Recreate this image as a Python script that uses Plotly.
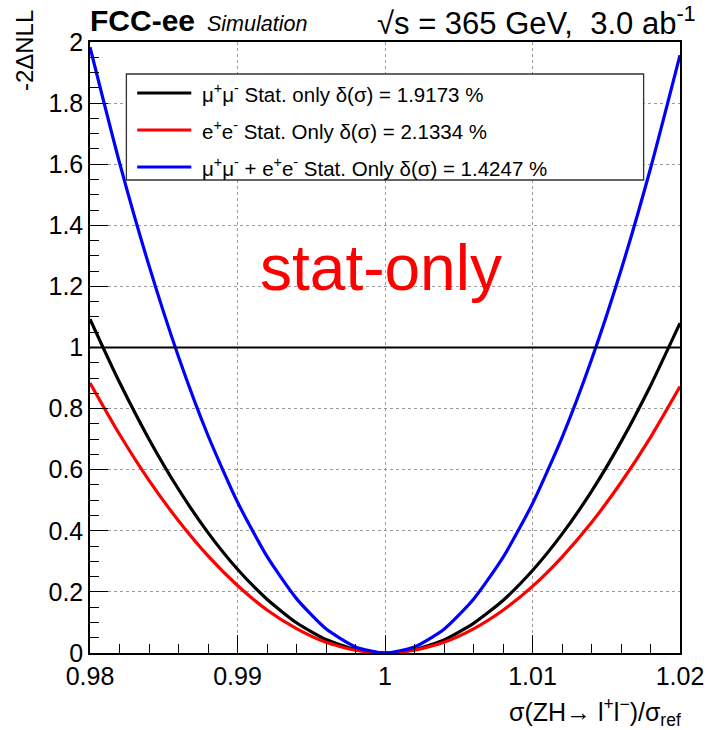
import plotly.graph_objects as go

# ---- data ----
x_vals = [0.980, 0.982, 0.984, 0.986, 0.988, 0.990, 0.992, 0.994, 0.996, 0.998, 1.000,
          1.002, 1.004, 1.006, 1.008, 1.010, 1.012, 1.014, 1.016, 1.018, 1.020]
mumu_nll = [1.093, 0.886, 0.700, 0.536, 0.394, 0.274, 0.176, 0.099, 0.044, 0.011, 0.0,
            0.011, 0.043, 0.097, 0.172, 0.270, 0.389, 0.529, 0.691, 0.875, 1.080]
ee_nll = [0.884, 0.716, 0.565, 0.433, 0.318, 0.221, 0.141, 0.080, 0.035, 0.009, 0.0,
          0.009, 0.035, 0.079, 0.140, 0.218, 0.314, 0.427, 0.558, 0.706, 0.872]
comb_nll = [1.983, 1.605, 1.268, 0.970, 0.712, 0.494, 0.316, 0.178, 0.079, 0.020, 0.0,
            0.020, 0.078, 0.176, 0.313, 0.489, 0.705, 0.960, 1.253, 1.586, 1.957]

series_names = ["μ<sup>+</sup>μ<sup>-</sup> Stat. only δ(σ) = 1.9173 %",
                "e<sup>+</sup>e<sup>-</sup> Stat. Only δ(σ) = 2.1334 %",
                "μ<sup>+</sup>μ<sup>-</sup> + e<sup>+</sup>e<sup>-</sup> Stat. Only δ(σ) = 1.4247 %"]
series_colors = ["#000000", "#ff0000", "#0000ff"]
series_values = [mumu_nll, ee_nll, comb_nll]

x_ticks = [0.98, 0.99, 1.00, 1.01, 1.02]
x_ticktext = ["0.98", "0.99", "1", "1.01", "1.02"]
y_ticks = [0, 0.2, 0.4, 0.6, 0.8, 1.0, 1.2, 1.4, 1.6, 1.8, 2.0]
y_ticktext = ["0", "0.2", "0.4", "0.6", "0.8", "1", "1.2", "1.4", "1.6", "1.8", "2"]

FONT = "Liberation Sans, Arial, Helvetica, sans-serif"

fig = go.Figure()
for name, col, vals in zip(series_names, series_colors, series_values):
    fig.add_trace(go.Scatter(x=x_vals, y=vals, mode="lines", name=name,
                             line=dict(color=col, width=3.2, shape="spline", smoothing=0.6),
                             showlegend=False))

axis_common = dict(showline=True, linecolor="black", linewidth=1.5, mirror=True,
                   ticks="inside", ticklen=18, tickwidth=1.2, tickcolor="black",
                   showgrid=True, gridcolor="#9a9a9a", griddash="dot", gridwidth=1,
                   zeroline=False,
                   tickfont=dict(family=FONT, size=25, color="black"))

fig.update_xaxes(range=[0.98, 1.02], tickvals=x_ticks, ticktext=x_ticktext,
                 minor=dict(dtick=0.002, ticks="inside", ticklen=9, tickcolor="black",
                            showgrid=False, tick0=0.98),
                 **axis_common)
fig.update_yaxes(range=[0, 2], tickvals=y_ticks, ticktext=y_ticktext,
                 minor=dict(dtick=0.05, ticks="inside", ticklen=9, tickcolor="black",
                            showgrid=False, tick0=0),
                 **axis_common)

# plot area in pixels: x 90..690, y 42..653
L, R, T, B = 90, 26, 42, 77
W, H = 716, 730
pw, ph = W - L - R, H - T - B

def px(xp):
    return (xp - L) / pw

def py(yp):
    return (H - B - yp) / ph

# reference line at -2dNLL = 1
fig.add_hline(y=1, line=dict(color="black", width=2))

# legend box
fig.add_shape(type="rect", xref="paper", yref="paper",
              x0=px(127), x1=px(653), y0=py(180), y1=py(74),
              line=dict(color="#333333", width=1.3), fillcolor="white", layer="above")
rows = [93, 130, 167]
for name, col, yr in zip(series_names, series_colors, rows):
    fig.add_shape(type="line", xref="paper", yref="paper",
                  x0=px(138), x1=px(193), y0=py(yr), y1=py(yr),
                  line=dict(color=col, width=3.2), layer="above")
    fig.add_annotation(text=name, xref="paper", yref="paper", x=px(202), y=py(yr),
                       xanchor="left", yanchor="middle", showarrow=False,
                       font=dict(family=FONT, size=20.5, color="black"))

# header
fig.add_annotation(text="<b>FCC-ee</b>", xref="paper", yref="paper", x=px(88), y=py(21),
                   xanchor="left", yanchor="middle", showarrow=False,
                   font=dict(family=FONT, size=30, color="black"))
fig.add_annotation(text="<i>Simulation</i>", xref="paper", yref="paper", x=px(207), y=py(24),
                   xanchor="left", yanchor="middle", showarrow=False,
                   font=dict(family=FONT, size=21.5, color="black"))
fig.add_annotation(text="√s = 365 GeV,  3.0 ab<sup>-1</sup>", xref="paper", yref="paper",
                   x=px(708), y=py(21), xanchor="right", yanchor="middle", showarrow=False,
                   font=dict(family=FONT, size=31, color="black"))

# axis titles
fig.add_annotation(text="-2ΔNLL", xref="paper", yref="paper", x=px(23), y=py(51),
                   xanchor="center", yanchor="middle", textangle=-90, showarrow=False,
                   font=dict(family=FONT, size=24, color="black"))
fig.add_annotation(text="σ(ZH→ l<sup>+</sup>l<sup>−</sup>)/σ<sub>ref</sub>", xref="paper",
                   yref="paper", x=px(693), y=py(712), xanchor="right", yanchor="middle",
                   showarrow=False, font=dict(family=FONT, size=25, color="black"))

# stat-only label
fig.add_annotation(text="stat-only", xref="paper", yref="paper", x=px(386), y=py(268),
                   xanchor="center", yanchor="middle", showarrow=False,
                   font=dict(family=FONT, size=64, color="#ff0000"))

fig.update_layout(width=W, height=H, margin=dict(l=L, r=R, t=T, b=B),
                  paper_bgcolor="white", plot_bgcolor="white", showlegend=False)

fig.write_html("out.html")
